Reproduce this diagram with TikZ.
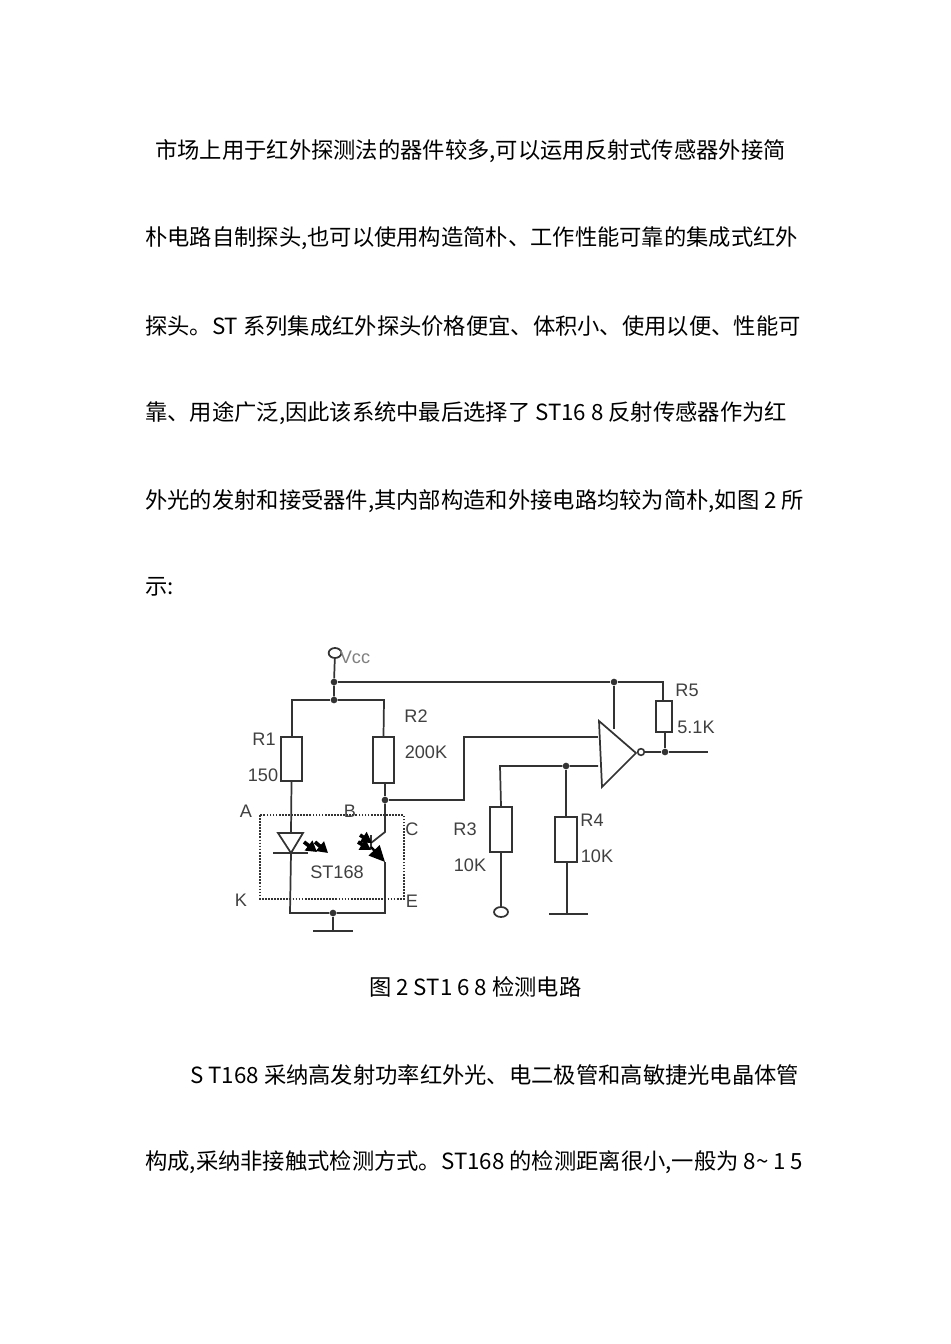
\documentclass[tikz,border=0pt]{standalone}
\usepackage{fontspec}
\setmainfont{Liberation Sans}
\newfontfamily\cjk{Noto Sans CJK SC}
\usetikzlibrary{arrows.meta,shapes.geometric}

\definecolor{wirecol}{gray}{0.2}
\definecolor{labelcol}{gray}{0.25}
\tikzset{
  wire/.style={draw=wirecol,line width=1.3pt},
  res/.style 2 args={draw=wirecol,line width=1.3pt,fill=white,inner sep=0pt,minimum width=#1*0.75pt,minimum height=#2*0.75pt},
  dot/.style={circle,fill=wirecol,inner sep=0pt,minimum size=5pt},
  lab/.style={text=labelcol,font=\fontsize{13.6}{15}\selectfont,inner sep=0pt},
  para/.style={anchor=west,inner sep=0pt,font=\cjk\fontsize{16.72}{20}\selectfont},
  glow/.style={draw=black,line width=2.8pt,-{Triangle[length=8pt,width=9pt]}}
}

\begin{document}
\begin{tikzpicture}[x=0.75pt,y=-0.75pt]
  \path[use as bounding box,fill=white] (0,0) rectangle (950,1344);

  % text above and below the circuit
  \node[para] (l1) at (155,151) {市场上用于红外探测法的器件较多,可以运用反射式传感器外接简};
  \node[para] (l2) at (145,238) {朴电路自制探头,也可以使用构造简朴、工作性能可靠的集成式红外};
  \node[para] (l3) at (145,326) {探头。ST 系列集成红外探头价格便宜、体积小、使用以便、性能可};
  \node[para] (l4) at (145,413) {靠、用途广泛,因此该系统中最后选择了 ST16 8 反射传感器作为红};
  \node[para] (l5) at (145,501) {外光的发射和接受器件,其内部构造和外接电路均较为简朴,如图 2 所};
  \node[para] (l6) at (145,587) {示:};
  \node[para] (cap) at (369,987) {图 2 ST1 6 8 检测电路};
  \node[para] (l7) at (190,1075) {S T168 采纳高发射功率红外光、电二极管和高敏捷光电晶体管};
  \node[para] (l8) at (145,1162) {构成,采纳非接触式检测方式。ST168 的检测距离很小,一般为 8\textasciitilde{} 1 5};

  % junctions and corners
  \node[draw=wirecol,line width=1.3pt,ellipse,inner sep=0pt,minimum width=9.5pt,minimum height=7.5pt] (vcc) at (335,653) {};
  \node[dot] (jtop) at (334,682) {};
  \node[dot] (jbr) at (334,700) {};
  \node[dot] (jgate) at (614,682) {};
  \node[dot] (jout) at (665,752) {};
  \node[dot] (jb) at (385,800) {};
  \node[dot] (jin) at (566,766) {};
  \node[dot] (jgnd) at (333,913) {};
  \coordinate (tl) at (292,700);
  \coordinate (tr) at (384,700);
  \coordinate (tv) at (663,682);
  \coordinate (end) at (708,752);
  \coordinate (gl) at (290,913);
  \coordinate (gr) at (385,913);
  \coordinate (gnda) at (333,931);
  \coordinate (gndb) at (567,914);

  % resistors
  \node[res={21}{44}] (r1) at (291.5,759) {};
  \node[res={21}{46}] (r2) at (383.5,760) {};
  \node[res={22}{45}] (r3) at (501,829.5) {};
  \node[res={22}{45}] (r4) at (566,839.5) {};
  \node[res={16}{31}] (r5) at (664,716.5) {};

  % comparator
  \coordinate (cmpa) at (599,721);
  \coordinate (cmpb) at (602,787);
  \coordinate (cmpc) at (636,753);
  \draw[wire,line join=miter] (cmpa) -- (cmpb) -- (cmpc) -- cycle;
  \node[draw=wirecol,line width=1.2pt,circle,inner sep=0pt,minimum size=5pt] (bub) at (641,752) {};

  % wires
  \draw[wire] (vcc) -- (jtop) -- (jbr);
  \draw[wire] (jtop) -- (jgate) -- (tv) -- (r5.north -| tv);
  \draw[wire] (jbr) -- (tl) -- (r1.north -| tl);
  \draw[wire] (jbr) -- (tr) -- (r2.north);
  \draw[wire] (r5.south -| jout) -- (jout);
  \draw[wire] (bub) -- (jout) -- (end);
  \draw[wire] (jgate) -- (614,729);
  \draw[wire] (r2.south -| jb) -- (jb) -- (464,800) -- (464,737) -- (598,737);
  \draw[wire] (598,766) -- (jin) -- (500,766) -- (r3.north);
  \draw[wire] (jin) -- (r4.north);
  \node[draw=wirecol,line width=1.3pt,ellipse,inner sep=0pt,minimum width=10.5pt,minimum height=7.5pt] (rin) at (501,912) {};
  \draw[wire] (r3.south) -- (rin);
  \draw[wire] (r4.south -| gndb) -- (gndb);
  \draw[wire] (549,914) -- (588,914);
  \draw[wire] (r1.south) -- (291,833);
  \draw[wire] (291,853) -- (gl) -- (jgnd) -- (gr) -- (385,862);
  \draw[wire] (jgnd) -- (gnda);
  \draw[wire] (313,931) -- (353,931);

  % ST168 package
  \draw[draw=wirecol,line width=1.3pt,dash pattern=on 1.3pt off 1pt] (260,815) rectangle (404,899);

  % LED
  \draw[wire,line join=miter] (278,833) -- (303,833) -- (291,853) -- cycle;
  \draw[wire] (273,853) -- (308,853);
  \draw[glow] (304,842) -- (317,852);
  \draw[glow] (315,842) -- (328,853);

  % phototransistor
  \draw[wire] (jb) -- (385,832) -- (371,843);
  \draw[wire] (371,835) -- (371,849);
  \draw[glow] (360,835) -- (372,843);
  \draw[glow] (358,842) -- (371,850);
  \draw[draw=black,line width=1.8pt,-{Triangle[length=12pt,width=11pt]}] (371,847) -- (385,862);

  % labels
  \node[lab,text=gray] (tvcc) at (355,657) {Vcc};
  \node[lab] (tr1) at (264,739) {R1};
  \node[lab] (v1) at (263,775) {150};
  \node[lab] (tr2) at (416,716) {R2};
  \node[lab] (v2) at (426,752) {200K};
  \node[lab] (ta) at (246,811) {A};
  \node[lab] (tb) at (350,811) {B};
  \node[lab] (tc) at (412,829) {C};
  \node[lab] (tk) at (241,900) {K};
  \node[lab] (te) at (412,901) {E};
  \node[lab] (tst) at (337,872) {ST168};
  \node[lab] (tr3) at (465,829) {R3};
  \node[lab] (v3) at (470,865) {10K};
  \node[lab] (tr4) at (592,820) {R4};
  \node[lab] (v4) at (597,856) {10K};
  \node[lab] (tr5) at (687,690) {R5};
  \node[lab] (v5) at (696,727) {5.1K};
\end{tikzpicture}
\end{document}
